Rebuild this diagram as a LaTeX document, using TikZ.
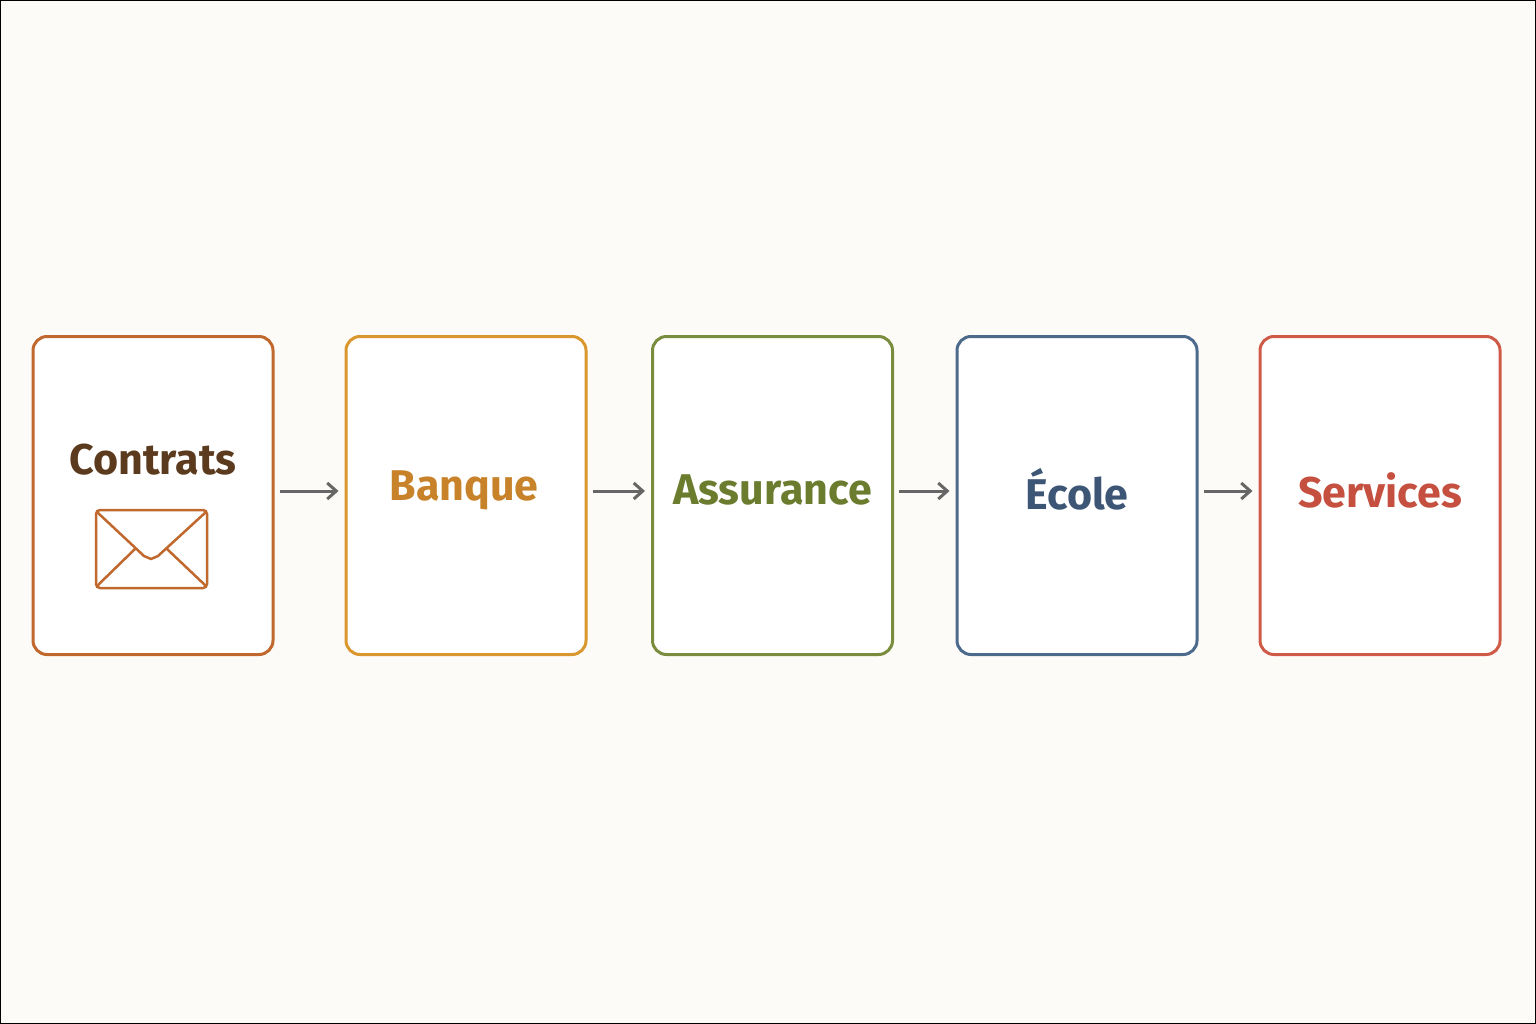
\documentclass[tikz,border=0pt]{standalone}
\usepackage{fontspec}
\setmainfont{Fira Sans}
\usetikzlibrary{arrows.meta}
\definecolor{bg}{HTML}{FDFBF7}
\definecolor{c1}{HTML}{C0682E}\definecolor{t1}{HTML}{5C3A1E}
\definecolor{c2}{HTML}{D9972E}\definecolor{t2}{HTML}{C8832A}
\definecolor{c3}{HTML}{7A8C3E}\definecolor{t3}{HTML}{6B7C2F}
\definecolor{c4}{HTML}{4C6A8C}\definecolor{t4}{HTML}{3D5675}
\definecolor{c5}{HTML}{D05A48}\definecolor{t5}{HTML}{C65040}
\definecolor{ar}{HTML}{666666}
\begin{document}
\begin{tikzpicture}[x=1pt,y=-1pt,
 box/.style={draw=#1,line width=3pt,rounded corners=14pt,fill=white,minimum width=240pt,minimum height=318pt,inner sep=0pt},
 lab/.style={text=#1,font=\fontsize{43}{48}\selectfont\bfseries,inner sep=0pt},
 arr/.style={draw=ar,line width=3pt,-{Straight Barb[length=9pt,width=16pt]}}]
\path[fill=bg,draw=black,line width=1pt] (0.5,0.5) rectangle (1535.5,1023.5);
\useasboundingbox (0,0) rectangle (1536,1024);
\node[box=c1] (b1) at (153,495.5) {};
\node[box=c2] (b2) at (466,495.5) {};
\node[box=c3] (b3) at (772.5,495.5) {};
\node[box=c4] (b4) at (1077,495.5) {};
\node[box=c5] (b5) at (1380,495.5) {};
\node[lab=t1] (l1) at (153,460) {Contrats};
\node[lab=t2] (l2) at (464,490) {Banque};
\node[lab=t3] (l3) at (772.5,490) {Assurance};
\node[lab=t4] (l4) at (1077,489) {École};
\node[lab=t5] (l5) at (1380,490) {Services};
\draw[c1,line width=2.5pt,rounded corners=4pt] (96,510) rectangle (207,588);
\draw[c1,line width=2.5pt,line join=round] (97,512) -- (144,556) -- (151,559) -- (158,556) -- (206,512);
\draw[c1,line width=2.5pt] (97,586) -- (135,549) (206,586) -- (167,549);
\coordinate (a1) at (0,491);
\draw[arr] (b1.east |- a1) ++(5,0) -- ([xshift=-6pt]b2.west |- a1);
\draw[arr] (b2.east |- a1) ++(5,0) -- ([xshift=-6pt]b3.west |- a1);
\draw[arr] (b3.east |- a1) ++(5,0) -- ([xshift=-6pt]b4.west |- a1);
\draw[arr] (b4.east |- a1) ++(5,0) -- ([xshift=-6pt]b5.west |- a1);
\end{tikzpicture}
\end{document}
